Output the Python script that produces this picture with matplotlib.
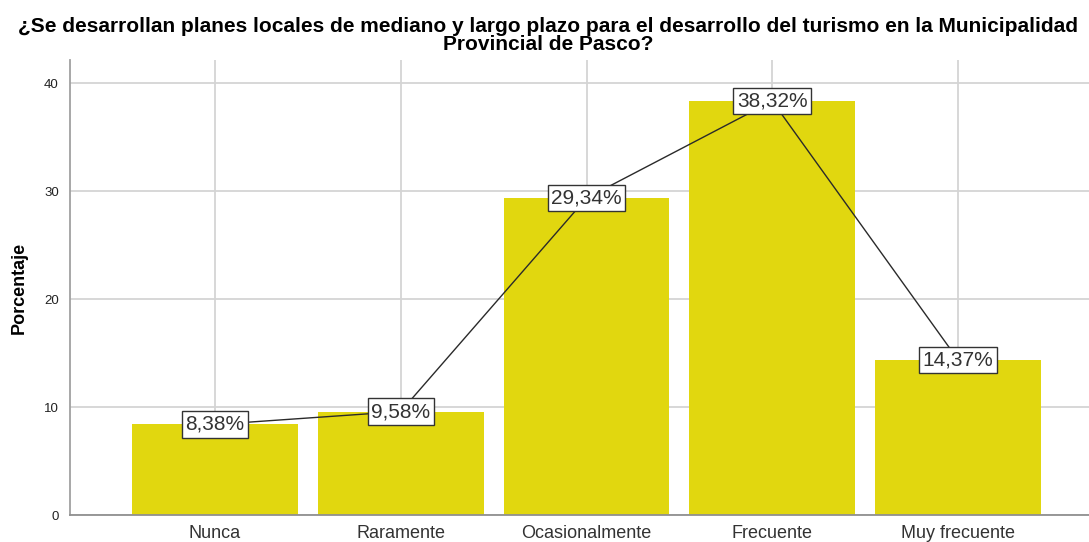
import matplotlib
matplotlib.use("Agg")
import matplotlib.pyplot as plt

categories = ["Nunca", "Raramente", "Ocasionalmente", "Frecuente", "Muy frecuente"]
values = [8.38, 9.58, 29.34, 38.32, 14.37]
labels = ["8,38%", "9,58%", "29,34%", "38,32%", "14,37%"]
yticks = [0, 10, 20, 30, 40]
title_lines = ["¿Se desarrollan planes locales de mediano y largo plazo para el desarrollo del turismo en la Municipalidad",
               "Provincial de Pasco?"]

plt.rcParams['font.family'] = ['Liberation Sans', 'DejaVu Sans']

W, H = 1089, 542
fig = plt.figure(figsize=(W/100, H/100), dpi=100)
left = 70/W
right = 1103/W
bottom = (H-515)/H
top = (H-60)/H
ax = fig.add_axes([left, bottom, right-left, top-bottom])

x = list(range(len(categories)))
ax.bar(x, values, width=166/186, color="#E1D70F", zorder=2)
ax.plot(x, values, color="#2a2a2a", lw=1.0, zorder=3)
for xi, v, lab in zip(x, values, labels):
    ax.text(xi, v, lab, ha="center", va="center", fontsize=15, color="#333333", zorder=4,
            bbox=dict(boxstyle="square,pad=0.17", fc="white", ec="#333333", lw=1.0))

ax.set_xlim(-0.78, len(categories)-1+0.78)
ax.set_ylim(0, (515-60)/10.8)
ax.set_yticks(yticks)
ax.set_yticklabels([str(t) for t in yticks], fontsize=9.5, color="#222222")
ax.set_xticks(x)
ax.set_xticklabels(categories, fontsize=13, color="#333333")
ax.tick_params(axis="both", length=0)
ax.tick_params(axis="y", pad=8)
ax.tick_params(axis="x", pad=7)
ax.grid(True, color="#d4d4d4", lw=1.3, zorder=0)
for s in ["top", "right"]:
    ax.spines[s].set_visible(False)
ax.spines["left"].set_color("#a0a0a0")
ax.spines["left"].set_linewidth(1.3)
ax.spines["bottom"].set_color("#909090")
ax.spines["bottom"].set_linewidth(1.3)
ax.set_axisbelow(True)

ax.set_ylabel("Porcentaje", fontsize=13, fontweight="bold", family=["Liberation Sans Narrow", "Liberation Sans"], labelpad=12)

cx = 0.5*(15+1082)/W
fig.text(cx, 1-32/H, title_lines[0], ha="center", va="baseline", fontsize=15, fontweight="bold")
fig.text(cx, 1-50/H, title_lines[1], ha="center", va="baseline", fontsize=15, fontweight="bold")

fig.savefig("out.png", dpi=100)
